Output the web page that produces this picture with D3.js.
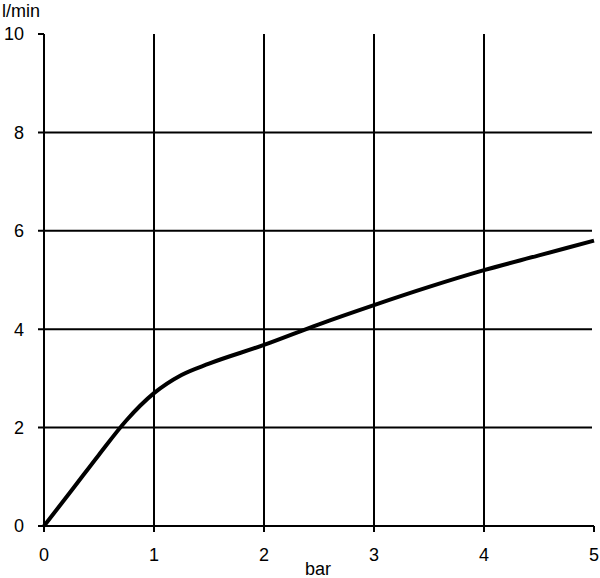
<!DOCTYPE html>
<html><head><meta charset="utf-8">
<script src="https://cdn.jsdelivr.net/npm/d3@7"></script>
<style>body{margin:0;background:#fff}svg{display:block}text{font-family:"Liberation Sans",Arial,sans-serif;fill:#000}</style>
</head><body><svg id="c" width="600" height="578"></svg>
<script>
const pressure = [0,0.25,0.5,0.75,1,1.25,1.5,2,2.5,3,3.5,4,4.5,5];
const flow = [0,0.72,1.45,2.15,2.7,3.07,3.3,3.68,4.1,4.49,4.86,5.2,5.5,5.8];
const xTicks = [0,1,2,3,4,5];
const yTicks = [0,2,4,6,8,10];
const xLabel = "bar", yLabel = "l/min";

const svg = d3.select("#c");
const x = d3.scaleLinear().domain([0,5]).range([44,594]);
const y = d3.scaleLinear().domain([0,10]).range([526,34]);

const g = svg.append("g");
// horizontal grid (top value only a tick)
g.selectAll(".hg").data(yTicks).join("line")
  .attr("x1", x(0)-6).attr("x2", d => d===10 ? x(0) : (d===0 ? x(5) : x(5)-2))
  .attr("y1", d=>y(d)).attr("y2", d=>y(d))
  .attr("stroke","#000").attr("stroke-width",2);
// vertical grid (last value only a tick)
g.selectAll(".vg").data(xTicks).join("line")
  .attr("x1", d=>x(d)).attr("x2", d=>x(d))
  .attr("y1", d => d===5 ? y(0) : y(10)).attr("y2", y(0)+6)
  .attr("stroke","#000").attr("stroke-width",2);
// y labels
g.selectAll(".yl").data(yTicks).join("text")
  .attr("x", 24).attr("y", d=>y(d)).attr("dy","0.35em")
  .attr("text-anchor","end").attr("font-size",18).text(d=>d);
// x labels
g.selectAll(".xl").data(xTicks).join("text")
  .attr("x", d=>x(d)).attr("y", 555).attr("dy","0.35em")
  .attr("text-anchor","middle").attr("font-size",18).text(d=>d);
svg.append("text").attr("x",305).attr("y",575).attr("font-size",18).text(xLabel);
svg.append("text").attr("x",2).attr("y",17).attr("font-size",18).text(yLabel);

const line = d3.line().x((d,i)=>x(pressure[i])).y(d=>y(d)).curve(d3.curveMonotoneX);
svg.append("path").attr("d", line(flow)).attr("fill","none")
  .attr("stroke","#000").attr("stroke-width",4).attr("stroke-linejoin","round");
</script></body></html>
